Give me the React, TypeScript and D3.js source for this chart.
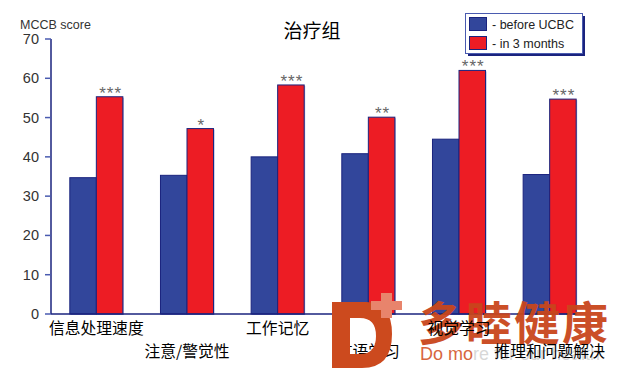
import React from "react";
import * as d3 from "d3";

const categories = ["信息处理速度", "注意/警觉性", "工作记忆", "言语学习", "视觉学习", "推理和问题解决"];
const seriesNames = ["- before UCBC", "- in 3 months"];
const beforeValues = [34.7, 35.3, 40.0, 40.8, 44.5, 35.5];
const afterValues = [55.3, 47.2, 58.3, 50.1, 62.0, 54.7];
const significance = ["***", "*", "***", "**", "***", "***"];
const yTicks = [0, 10, 20, 30, 40, 50, 60, 70];

const width = 619;
const height = 373;
const colors = ["#32469b", "#ed1c24"];
const navy = "#1a237e";
const latin = "'Liberation Sans', Arial, sans-serif";
const cjk = "'Noto Sans CJK SC', sans-serif";

const App = () => {
  const x0 = d3
    .scaleBand()
    .domain(categories)
    .range([51, 595])
    .paddingInner(0.415)
    .paddingOuter(0.2075);
  const x1 = d3
    .scaleBand()
    .domain(seriesNames)
    .range([0, x0.bandwidth()]);
  const y = d3.scaleLinear().domain([0, 70]).range([314, 39]);

  const rows = categories.map((c, i) => ({
    cat: c,
    vals: [beforeValues[i], afterValues[i]],
    sig: significance[i],
  }));

  return (
    <svg
      width={width}
      height={height}
      style={{ position: "absolute", left: 0, top: 0, background: "#fff" }}
    >
      {/* y axis */}
      <text x={20} y={29} fontFamily={latin} fontSize={12.5} fill="#333">
        MCCB score
      </text>
      <line x1={51} x2={51} y1={y(70)} y2={y(0)} stroke={navy} strokeWidth={1.5} />
      {yTicks.map((t) => (
        <g key={t}>
          <line x1={45} x2={51} y1={y(t)} y2={y(t)} stroke="#4a5bb0" strokeWidth={1.5} />
          <text
            x={39}
            y={y(t) + 5}
            textAnchor="end"
            fontFamily={latin}
            fontSize={14.5}
            fill="#333"
          >
            {t}
          </text>
        </g>
      ))}

      {/* title */}
      <text x={312} y={38} textAnchor="middle" fontFamily={cjk} fontSize={19} fill="#000">
        治疗组
      </text>

      {/* bars */}
      {rows.map((r) => (
        <g key={r.cat} transform={`translate(${x0(r.cat)},0)`}>
          {r.vals.map((v, j) => (
            <g key={j}>
              <rect
                x={(x1(seriesNames[j]) as number) + 1}
                y={y(v) + 1}
                width={x1.bandwidth()}
                height={y(0) - y(v)}
                fill="#a9b0dc"
              />
              <rect
                x={x1(seriesNames[j])}
                y={y(v)}
                width={x1.bandwidth()}
                height={y(0) - y(v)}
                fill={colors[j]}
                stroke={navy}
                strokeWidth={1}
              />
            </g>
          ))}
          <text
            x={(x1(seriesNames[1]) as number) + x1.bandwidth() / 2 + 1}
            y={y(r.vals[1]) + 2}
            textAnchor="middle"
            fontFamily={latin}
            fontSize={17}
            letterSpacing={1}
            fill="#666"
          >
            {r.sig}
          </text>
        </g>
      ))}

      {/* x axis */}
      <line x1={51} x2={577} y1={y(0)} y2={y(0)} stroke={navy} strokeWidth={1.5} />

      {/* watermark text (behind labels) */}
      <text x={418} y={340} fontFamily={cjk} fontWeight={700} fontSize={46} fill="#c9461c" letterSpacing={2} opacity={0.95}>
        多睦健康
      </text>
      <text x={420} y={360} fontFamily={latin} fontSize={18} fill="#d7663f">
        Do mo
        <tspan fill="#bdbdbd" fillOpacity={0.6}>re for our health</tspan>
      </text>

      {categories.map((c, i) => (
        <text
          key={c}
          x={(x0(c) as number) + x0.bandwidth() / 2}
          y={i % 2 === 0 ? 334 : 357}
          textAnchor="middle"
          fontFamily={cjk}
          fontSize={15.8}
          fill="#000"
        >
          {c}
        </text>
      ))}

      {/* legend */}
      <rect x={468} y={16} width={117} height={40} fill={navy} />
      <rect x={465.5} y={13.5} width={117} height={40} fill="#fff" stroke="#4a5bb0" strokeWidth={1} />
      {seriesNames.map((s, j) => (
        <g key={s}>
          <rect x={469.5} y={17.5 + j * 19} width={17} height={13} fill={colors[j]} stroke={navy} strokeWidth={1} />
          <text x={492} y={29 + j * 19} fontFamily={latin} fontSize={12.5} fill="#222">
            {s}
          </text>
        </g>
      ))}

      {/* watermark logo */}
      <path
        d="M332,302 L366,302 Q392,302 392,334 Q392,368 362,368 L332,368 Z M350,318 L360,318 Q376,318 376,336 Q376,354 360,354 L350,354 Z"
        fill="#cc4a1e"
        fillRule="evenodd"
      />
      <path d="M381,293 L392,293 L392,301 L402,301 L402,310 L392,310 L392,318 L381,318 L381,310 L371,310 L371,301 L381,301 Z" fill="#e8846c" />
    </svg>
  );
};

export default App;
